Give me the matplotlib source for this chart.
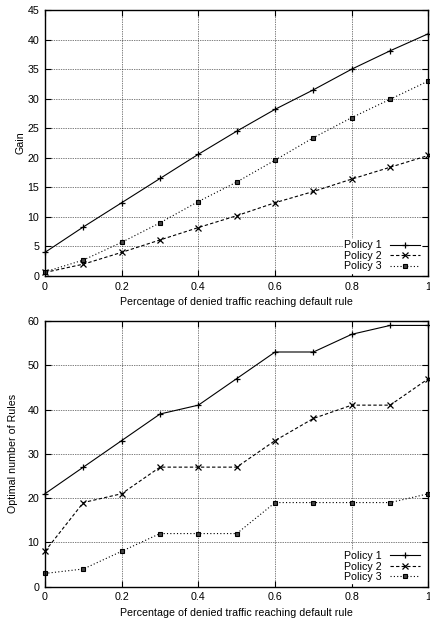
import matplotlib
matplotlib.use("Agg")
import matplotlib.pyplot as plt
from matplotlib.ticker import MultipleLocator

plt.rcParams['font.family'] = ['Liberation Sans', 'DejaVu Sans']

x = [0, 0.1, 0.2, 0.3, 0.4, 0.5, 0.6, 0.7, 0.8, 0.9, 1.0]
labels = ["Policy 1", "Policy 2", "Policy 3"]

gain_p1 = [4.0, 8.3, 12.4, 16.5, 20.6, 24.5, 28.2, 31.5, 35.0, 38.1, 41.0]
gain_p2 = [0.6, 2.0, 4.0, 6.1, 8.2, 10.2, 12.4, 14.3, 16.4, 18.4, 20.4]
gain_p3 = [0.7, 2.7, 5.7, 9.0, 12.6, 15.9, 19.6, 23.4, 26.8, 29.9, 33.0]

rules_p1 = [21, 27, 33, 39, 41, 47, 53, 53, 57, 59, 59]
rules_p2 = [8, 19, 21, 27, 27, 27, 33, 38, 41, 41, 47]
rules_p3 = [3, 4, 8, 12, 12, 12, 19, 19, 19, 19, 21]

xlabel = "Percentage of denied traffic reaching default rule"

W, H = 430, 622
fig = plt.figure(figsize=(W / 100, H / 100), dpi=100)
FS = 7.7
AX_L, AX_R = 45, 428.5
AX_W = AX_R - AX_L

def make_ax(top_px, bottom_px):
    return fig.add_axes([AX_L / W, 1 - bottom_px / H, AX_W / W, (bottom_px - top_px) / H])

styles = [
    dict(linestyle='-', marker='+', markersize=5, mew=0.9),
    dict(linestyle=(0, (3, 2)), marker='x', markersize=4, mew=0.9),
    dict(linestyle=(0, (1, 2)), marker='s', markersize=3.5, mew=0.8,
         markerfacecolor='#444444', markeredgecolor='black'),
]

def draw(ax, series, ylim, ystep, ylabel, ylab_px, ax_h):
    for s, lab, st in zip(series, labels, styles):
        ax.plot(x, s, color='black', linewidth=0.8, label=lab, clip_on=False, **st)
    ax.set_xlim(0, 1)
    ax.set_ylim(*ylim)
    ax.yaxis.set_major_locator(MultipleLocator(ystep))
    ax.set_xticks([0, 0.2, 0.4, 0.6, 0.8, 1.0])
    ax.set_xticklabels(["0", "0.2", "0.4", "0.6", "0.8", "1"])
    ax.grid(True, color='black', linestyle=(0, (1, 1.5)), linewidth=0.5)
    ax.tick_params(direction='in', length=4, width=0.8, top=True, right=True,
                   labelsize=FS, pad=4)
    for sp in ax.spines.values():
        sp.set_linewidth(1.0)
    ax.set_xlabel(xlabel, fontsize=FS, labelpad=4)
    ax.set_ylabel(ylabel, fontsize=FS)
    ax.yaxis.set_label_coords((ylab_px + 4.5 - AX_L) / AX_W, 0.5)
    leg = ax.legend(loc='lower right', bbox_to_anchor=((421 - AX_L) / AX_W, 3.5 / ax_h),
                    frameon=True, markerfirst=False, fontsize=FS,
                    handlelength=2.8, handletextpad=0.8, labelspacing=0.05,
                    borderaxespad=0.0, borderpad=0.1, fancybox=False)
    leg.get_frame().set_edgecolor('white')
    leg.get_frame().set_facecolor('white')
    leg.get_frame().set_alpha(1.0)

ax1 = make_ax(10, 276)
draw(ax1, [gain_p1, gain_p2, gain_p3], (0, 45), 5, "Gain", 21, 266)

ax2 = make_ax(321, 586.7)
draw(ax2, [rules_p1, rules_p2, rules_p3], (0, 60), 10, "Optimal number of Rules", 14, 265.7)

fig.savefig("out.png", dpi=100)
